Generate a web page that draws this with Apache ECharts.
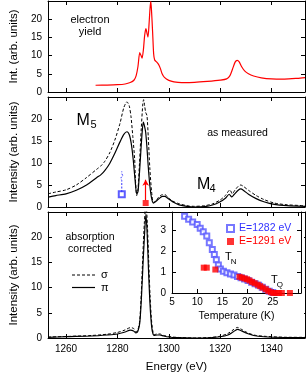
<!DOCTYPE html>
<html><head><meta charset="utf-8">
<script src="https://cdn.jsdelivr.net/npm/echarts@6.0.0/dist/echarts.min.js"></script>
<style>html,body{margin:0;padding:0;background:#fff}#c{width:306px;height:374px}</style>
</head><body><div id="c"></div>
<script>
// ---------- data ----------
const energyTicks = [1260, 1280, 1300, 1320, 1340];
const intTicks = [0, 5, 10, 15, 20];
const tempLabels = [5, 10, 15, 20, 25];
const tempTicks = [5, 10, 15, 20, 25, 30];
const insetYTicks = [0, 1, 2, 3];

// electron yield (top panel)
const eyE = [1271.5,1276,1280,1283,1285,1286.5,1287.3,1288,1288.7,1289.2,1289.6,1290.1,1290.6,1291.1,1291.5,1291.9,1292.3,1292.7,1293.0,1293.3,1293.7,1294.1,1294.5,1295.2,1296,1296.7,1297.4,1298.3,1300,1302,1305,1310,1315,1320,1322.5,1323.8,1324.8,1325.8,1326.6,1327.4,1328.3,1329.5,1331,1333,1336,1340,1345,1350,1353];
const eyI = [1.85,1.9,2.0,2.2,2.6,3.3,4.5,7.0,10.8,10.0,9.3,11.5,15.5,17.4,16.2,15.1,18.5,23.0,24.9,22.0,16.5,10.5,8.8,8.3,7.6,6.5,5.0,4.0,3.2,2.8,2.6,2.65,2.9,3.25,3.6,4.5,6.3,8.2,8.7,8.3,7.0,5.8,5.0,4.4,3.9,3.6,3.55,3.75,3.95];

// as measured (middle panel)
const measPiE = [1253,1256,1260,1264,1268,1272,1273.5,1275,1277,1279,1281,1282.5,1283.7,1284.7,1285.5,1286.2,1286.9,1287.5,1288.0,1288.5,1289.1,1289.7,1290.1,1290.5,1291.0,1291.5,1292.0,1292.6,1293.3,1294.0,1294.8,1296,1297.5,1298.5,1300,1302,1304,1307,1310,1314,1317,1320,1322,1323.5,1324.5,1325.5,1327,1328,1329,1331,1334,1337,1341,1346,1353];
const measPiI = [2.26,2.6,3.0,3.8,5.0,6.7,7.3,8.2,9.9,12.2,14.8,16.5,17.1,16.3,14.0,10.5,6.0,3.0,3.5,7.0,12.5,17.5,19.3,18.5,17.0,13.5,9.2,5.0,2.0,0.9,1.2,1.8,2.4,2.4,1.8,1.0,0.5,0.15,0.0,0.1,0.45,1.2,2.0,2.9,2.3,2.9,3.8,4.1,3.8,2.9,1.9,1.2,0.6,0.3,0.15];
const measSigmaE = [1253,1256,1260,1264,1268,1272,1273.5,1275,1277,1279,1281,1282.5,1283.7,1284.6,1285.3,1286.0,1286.7,1287.0,1287.5,1288.0,1288.6,1289.3,1289.9,1290.2,1290.6,1291.0,1291.5,1292.0,1292.6,1293.3,1294.0,1294.8,1296,1297.5,1298.5,1300,1302,1304,1307,1310,1314,1317,1320,1322,1323.8,1324.7,1325.7,1327,1328,1329,1331,1334,1337,1341,1346,1353];
const measSigmaI = [3.0,3.4,3.9,5.0,6.7,8.6,9.3,10.3,12.3,15.2,19.0,22.6,23.9,23.0,20.5,16.0,11.0,6.5,2.6,4.0,10.0,18.0,23.5,24.4,23.0,21.5,20.8,16.0,9.0,3.5,1.05,1.3,2.2,2.8,2.8,2.0,1.2,0.75,0.3,0.15,0.3,0.7,1.6,2.6,3.9,3.0,3.8,4.7,5.0,4.7,3.8,2.6,1.7,0.9,0.5,0.3];

// energies used for the temperature scans (markers in middle panel)
const markBlue = [1281.7, 2.9];
const markBlueBreak = [[1281.7,3.4],[1281.7,6.0],[1281.3,6.6],[1282.1,7.1],[1281.7,7.6],[1281.7,8.1]];
const markRed = [1291, 0.9];
const markRedArrow = [[1291, 1.5], [1291, 6.2]];

// absorption corrected (bottom panel)
const corrPiE = [1253,1260,1270,1276,1280,1283,1285,1286.3,1287.2,1288,1288.7,1289.3,1289.9,1290.5,1291.1,1291.6,1292.1,1292.6,1293.1,1293.6,1294.3,1295.5,1296.5,1298,1300,1303,1310,1316,1320,1323,1325,1326.7,1328,1330,1333,1337,1345,1353];
const corrPiI = [0.13,0.26,0.4,0.6,0.8,1.2,1.55,1.4,1.0,1.4,3.0,7.5,14.0,20.0,24.6,20.5,13.5,7.5,3.5,1.3,0.5,0.6,0.6,0.4,0.2,0.07,0.0,0.05,0.25,0.6,1.2,1.7,1.5,1.0,0.5,0.25,0.1,0.07];
const corrSigmaE = [1253,1260,1270,1276,1280,1283,1285,1286.3,1287.2,1288,1288.7,1289.3,1289.9,1290.5,1291.1,1291.7,1292.2,1292.7,1293.2,1293.7,1294.3,1295.5,1296.5,1298,1300,1303,1310,1316,1320,1323,1325,1326.7,1328,1330,1333,1337,1345,1353];
const corrSigmaI = [0.2,0.3,0.5,0.75,1.1,1.6,2.05,1.9,1.2,1.7,3.5,9.0,16.5,23.0,27.0,22.0,15.0,8.5,4.0,1.6,0.65,0.8,0.8,0.5,0.3,0.13,0.0,0.1,0.35,0.9,1.6,2.1,1.8,1.2,0.6,0.35,0.15,0.13];

// inset: temperature dependence
const blueT = [7.5,8.3,9.1,10.0,10.6,11.2,11.9,12.4,13.0,13.4,13.8,14.2,14.6,15.2,15.9,16.6,17.3,18.0,18.7,19.4,20.1,20.8,21.5,22.2,22.9,23.6,24.3,25.0];
const blueV = [3.70,3.55,3.42,3.30,3.12,2.95,2.75,2.42,2.10,1.85,1.60,1.35,1.15,1.05,0.98,0.92,0.87,0.80,0.74,0.68,0.60,0.52,0.45,0.37,0.28,0.18,0.08,0.02];
const redT = [11.3,11.9,13.6,18.4,18.9,19.4,19.9,20.4,20.9,21.4,22.0,22.5,23.0,23.6,24.1,24.6,25.1,25.6,26.2,26.8,28.4];
const redV = [1.22,1.22,1.13,0.78,0.74,0.70,0.66,0.60,0.53,0.47,0.40,0.33,0.26,0.18,0.10,0.04,0.0,0.0,0.0,0.0,0.0];
const tnArrow = [[15, 1.95], [15, 1.27]];
const tqArrow = [[24.3, 0.8], [24.3, 0.06]];

// ---------- chart ----------
const FONT = 'Liberation Sans, Arial, Helvetica, sans-serif';
const zip = (a, b) => a.map((v, i) => [v, b[i]]);
const BLK = '#000';
const BLUE = '#3333ff';
const LBLUE = '#5555ff';
const RED = '#ff0000';
const plain = v => String(v);

const grids = [
  {left: 36, top: 1, width: 269, height: 91},
  {left: 36, top: 97, width: 269, height: 110},
  {left: 36, top: 212, width: 269, height: 128},
  {left: 172, top: 212, width: 129, height: 81}
];

function ax(g, pos, min, max, ticks, labels, extra) {
  return Object.assign({
    type: 'value', gridIndex: g, position: pos, min: min, max: max,
    axisLine: {show: true, onZero: false, lineStyle: {color: BLK, width: 1}},
    axisTick: {show: true, inside: true, length: 4, customValues: ticks, lineStyle: {color: BLK}},
    axisLabel: labels ? {show: true, customValues: labels, formatter: plain, margin: 6, color: BLK, fontSize: 10, fontFamily: FONT} : {show: false},
    splitLine: {show: false}
  }, extra || {});
}
const yNameStyle = {nameLocation: 'middle', nameGap: 26, nameRotate: 90, nameTextStyle: {color: BLK, fontSize: 11.5, fontFamily: FONT}};

const xAxis = [
  ax(0, 'bottom', 1253, 1353, energyTicks, null),
  ax(0, 'top', 1253, 1353, energyTicks, null),
  ax(1, 'bottom', 1253, 1353, energyTicks, null),
  ax(1, 'top', 1253, 1353, energyTicks, null),
  ax(2, 'bottom', 1253, 1353, energyTicks, energyTicks, {name: 'Energy (eV)', nameLocation: 'middle', nameGap: 23, nameTextStyle: {color: BLK, fontSize: 11.5, fontFamily: FONT}}),
  ax(2, 'top', 1253, 1353, energyTicks, null),
  ax(3, 'bottom', 5, 30.6, tempTicks, tempLabels, {z: 20, name: 'Temperature (K)', nameLocation: 'middle', nameGap: 18, nameTextStyle: {color: BLK, fontSize: 10.5, fontFamily: FONT}}),
  ax(3, 'top', 5, 30.6, tempTicks, null, {z: 20})
];
xAxis[6].axisLabel.margin = 4;
const yAxis = [
  ax(0, 'left', 0, 25, intTicks, intTicks, Object.assign({name: 'Int. (arb. units)'}, yNameStyle)),
  ax(0, 'right', 0, 25, intTicks, null),
  ax(1, 'left', 0, 25, intTicks, intTicks, Object.assign({name: 'Intensity (arb. units)'}, yNameStyle)),
  ax(1, 'right', 0, 25, intTicks, null),
  ax(2, 'left', 0, 25, intTicks, intTicks, Object.assign({name: 'Intensity (arb. units)'}, yNameStyle)),
  ax(2, 'right', 0, 25, intTicks, null),
  ax(3, 'left', 0, 3.9, insetYTicks, insetYTicks, {z: 20}),
  ax(3, 'right', 0, 3.9, insetYTicks, null, {z: 20})
];

const lineBase = {type: 'line', showSymbol: false, symbol: 'none', smooth: 0.25, animation: false};
const dashed = [3, 2];

const series = [
  Object.assign({}, lineBase, {name: 'ey', xAxisIndex: 0, yAxisIndex: 0, data: zip(eyE, eyI), lineStyle: {color: RED, width: 1.2}}),
  Object.assign({}, lineBase, {name: 'ms', xAxisIndex: 2, yAxisIndex: 2, data: zip(measSigmaE, measSigmaI), lineStyle: {color: BLK, width: 1, type: dashed}}),
  Object.assign({}, lineBase, {name: 'mp', xAxisIndex: 2, yAxisIndex: 2, data: zip(measPiE, measPiI), lineStyle: {color: BLK, width: 1.2}}),
  {type: 'line', xAxisIndex: 2, yAxisIndex: 2, data: markBlueBreak, symbol: 'none', lineStyle: {color: BLUE, width: 1, type: [2, 1.5]}, animation: false},
  {type: 'scatter', xAxisIndex: 2, yAxisIndex: 2, data: [markBlue], symbol: 'emptyRect', symbolSize: 6, itemStyle: {color: BLUE, borderColor: BLUE, borderWidth: 1}, animation: false},
  {type: 'scatter', xAxisIndex: 2, yAxisIndex: 2, data: [markRed], symbol: 'rect', symbolSize: 6, itemStyle: {color: RED}, animation: false,
    markLine: {silent: true, symbol: ['none', 'arrow'], symbolSize: [5, 6], label: {show: false}, lineStyle: {color: RED, width: 1.2, type: 'solid'}, itemStyle: {color: RED},
      data: [[{coord: markRedArrow[0]}, {coord: markRedArrow[1]}]], animation: false}},
  Object.assign({}, lineBase, {name: 'σ', xAxisIndex: 4, yAxisIndex: 4, data: zip(corrSigmaE, corrSigmaI), lineStyle: {color: BLK, width: 1, type: dashed}, itemStyle: {color: BLK}}),
  Object.assign({}, lineBase, {name: 'π', xAxisIndex: 4, yAxisIndex: 4, data: zip(corrPiE, corrPiI), lineStyle: {color: BLK, width: 1.2}, itemStyle: {color: BLK}}),
  // inset
  {type: 'line', z: 30, xAxisIndex: 6, yAxisIndex: 6, data: zip(blueT, blueV), symbol: 'none', lineStyle: {color: LBLUE, width: 0.8, type: [1, 2]}, animation: false},
  {type: 'scatter', z: 31, name: 'E=1282 eV', xAxisIndex: 6, yAxisIndex: 6, data: zip(blueT, blueV), symbol: 'emptyRect', symbolSize: 5, itemStyle: {color: LBLUE, borderColor: LBLUE, borderWidth: 0.6}, animation: false},
  {type: 'scatter', z: 32, name: 'E=1291 eV', xAxisIndex: 6, yAxisIndex: 6, data: zip(redT, redV), symbol: 'rect', symbolSize: 6, itemStyle: {color: RED}, animation: false,
    markLine: {silent: true, symbol: ['none', 'arrow'], symbolSize: [5, 6], label: {show: false}, lineStyle: {color: BLK, width: 1, type: 'solid'}, itemStyle: {color: BLK},
      data: [[{coord: tnArrow[0]}, {coord: tnArrow[1]}], [{coord: tqArrow[0]}, {coord: tqArrow[1]}]], animation: false}}
];

function txt(x, y, text, size, align) {
  return {type: 'text', x: x, y: y, z: 40, style: {text: text, fill: BLK, fontSize: size, fontFamily: FONT, align: align || 'left', verticalAlign: 'middle', lineHeight: size + 1}};
}

const graphic = [
  {type: 'rect', z: 10, shape: {x: 158, y: 213, width: 146, height: 111}, style: {fill: '#fff'}},
  txt(90, 26, 'electron\nyield', 11, 'center'),
  txt(76.5, 121, 'M', 16),
  txt(90.5, 124.5, '5', 11),
  txt(237.5, 132.7, 'as measured', 10.5, 'center'),
  txt(197, 185, 'M', 16),
  txt(209.5, 189, '4', 11),
  txt(90, 243, 'absorption\ncorrected', 10.5, 'center'),
  // legend of bottom panel
  {type: 'line', z: 40, shape: {x1: 72, y1: 275, x2: 95, y2: 275}, style: {stroke: BLK, lineWidth: 1, lineDash: dashed}},
  txt(101, 274.5, 'σ', 11),
  {type: 'line', z: 40, shape: {x1: 72, y1: 287.5, x2: 95, y2: 287.5}, style: {stroke: BLK, lineWidth: 1.2}},
  txt(101, 287.5, 'π', 11),
  // inset annotations
  txt(225, 257.3, 'T', 11),
  txt(230.8, 261.3, 'N', 8),
  txt(271, 279.5, 'T', 11),
  txt(276.8, 284.6, 'Q', 8)
];

const legend = [
  {data: [{name: 'E=1282 eV', textStyle: {color: BLUE}}, {name: 'E=1291 eV', textStyle: {color: RED}}],
    orient: 'vertical', left: 221, top: 218, itemWidth: 7, itemHeight: 7, itemGap: 2, z: 40,
    textStyle: {fontSize: 10.5, fontFamily: FONT}, selectedMode: false}
];

const chart = echarts.init(document.getElementById('c'), null, {renderer: 'canvas'});
chart.setOption({
  animation: false,
  backgroundColor: '#fff',
  textStyle: {fontFamily: FONT},
  grid: grids,
  xAxis: xAxis,
  yAxis: yAxis,
  series: series,
  legend: legend,
  graphic: graphic
});
</script></body></html>
